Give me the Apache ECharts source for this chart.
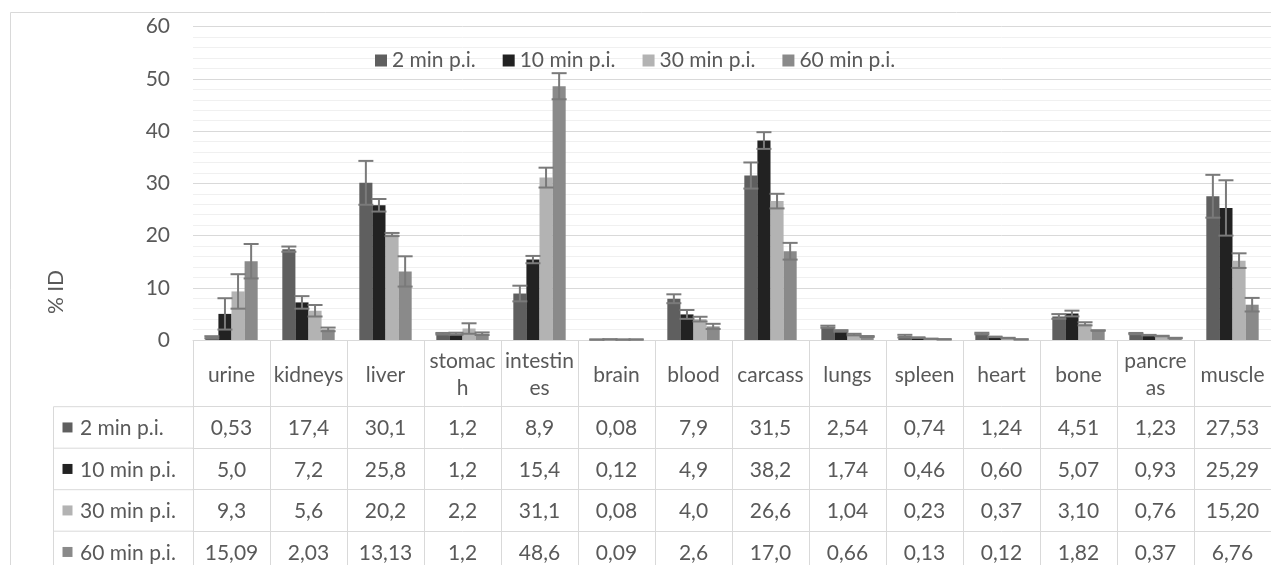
<!DOCTYPE html>
<html><head><meta charset="utf-8">
<script src="https://cdn.jsdelivr.net/npm/echarts@6/dist/echarts.min.js"></script>
<style>html,body{margin:0;padding:0;background:#fff}#c{width:1271px;height:565px}</style>
</head><body><div id="c"></div>
<script>
// ---- data ----
const categories = ['urine','kidneys','liver','stomach','intestines','brain','blood','carcass','lungs','spleen','heart','bone','pancreas','muscle'];
const categoryLabels = ['urine','kidneys','liver','stomac\nh','intestin\nes','brain','blood','carcass','lungs','spleen','heart','bone','pancre\nas','muscle'];
const seriesNames = ['2 min p.i.','10 min p.i.','30 min p.i.','60 min p.i.'];
const v2  = ['0.53','17.4','30.1','1.2','8.9','0.08','7.9','31.5','2.54','0.74','1.24','4.51','1.23','27.53'];
const v10 = ['5.0','7.2','25.8','1.2','15.4','0.12','4.9','38.2','1.74','0.46','0.60','5.07','0.93','25.29'];
const v30 = ['9.3','5.6','20.2','2.2','31.1','0.08','4.0','26.6','1.04','0.23','0.37','3.10','0.76','15.20'];
const v60 = ['15.09','2.03','13.13','1.2','48.6','0.09','2.6','17.0','0.66','0.13','0.12','1.82','0.37','6.76'];
const e2  = [0.2,0.5,4.2,0.15,1.5,0.02,0.85,2.5,0.2,0.25,0.15,0.45,0.12,4.1];
const e10 = [3.0,1.2,1.2,0.2,0.7,0.02,0.85,1.6,0.15,0.05,0.05,0.55,0.05,5.3];
const e30 = [3.3,1.1,0.3,1.0,1.9,0.02,0.45,1.4,0.15,0.03,0.05,0.3,0.05,1.4];
const e60 = [3.3,0.35,2.9,0.25,2.5,0.02,0.5,1.6,0.1,0.03,0.03,0.05,0.05,1.3];
const yMin = 0, yMax = 60, yInterval = 10;

// ---- style ----
const FONT = 'Lato';
const FS = 21;
const TXT = '#595959';
const LINE = '#d9d9d9';
const colors = ['#5f5f5f','#222222','#b3b3b3','#8a8a8a'];
const ERR = '#7a7a7a';
const GAP = 0.32;
const gridLeft = 193, gridTop = 26.7, gridW = 1080.8, gridH = 313.3;
const catRowH = 66.7, rowH = 41.5;

const values = [v2, v10, v30, v60];
const errors = [e2, e10, e30, e60];

function errRender(sIdx) {
  return function (params, api) {
    const i = api.value(0), v = api.value(1), e = api.value(2);
    const bandW = api.size([1, 0])[0];
    const barW = bandW * (1 - GAP) / 4;
    const c = api.coord([i, v]);
    const x = c[0] + (sIdx - 1.5) * barW;
    const yT = api.coord([i, v + e])[1];
    const yB = api.coord([i, Math.max(v - e, 0)])[1];
    const hw = 7.5;
    const st = { stroke: ERR, lineWidth: 2 };
    return { type: 'group', children: [
      { type: 'line', shape: { x1: x, y1: yT, x2: x, y2: yB }, style: st },
      { type: 'line', shape: { x1: x - hw, y1: yT, x2: x + hw, y2: yT }, style: st },
      { type: 'line', shape: { x1: x - hw, y1: yB, x2: x + hw, y2: yB }, style: st }
    ]};
  };
}

const xAxes = [{
  type: 'category', data: categories, gridIndex: 0, position: 'bottom',
  axisLine: { show: true, lineStyle: { color: LINE, width: 1 } },
  axisTick: { show: true, length: 240, lineStyle: { color: LINE, width: 1 } },
  axisLabel: { interval: 0, color: TXT, fontFamily: FONT, fontSize: FS, margin: 35,
    verticalAlign: 'middle', lineHeight: 27,
    formatter: (val, idx) => categoryLabels[idx] },
  splitLine: { show: false }
}];
values.forEach((row, k) => {
  xAxes.push({
    type: 'category', data: categories, gridIndex: 0, position: 'bottom',
    offset: catRowH + rowH * k,
    axisLine: { show: true, lineStyle: { color: LINE, width: 1 } },
    axisTick: { show: false },
    axisLabel: { interval: 0, color: TXT, fontFamily: FONT, fontSize: FS, margin: rowH / 2 + 1,
      verticalAlign: 'middle', formatter: (val, idx) => row[idx].replace('.', ',') },
    splitLine: { show: false }
  });
});

const series = [];
values.forEach((row, k) => {
  series.push({ type: 'bar', name: seriesNames[k], xAxisIndex: 0, yAxisIndex: 0,
    data: row.map(Number), barGap: '0%', barCategoryGap: (GAP * 100) + '%',
    itemStyle: { color: colors[k] }, z: 2 });
});
values.forEach((row, k) => {
  series.push({ type: 'custom', xAxisIndex: 0, yAxisIndex: 0, renderItem: errRender(k),
    encode: { x: 0, y: 1 }, z: 5, silent: true,
    data: row.map((v, i) => [i, Number(v), errors[k][i]]) });
});

// table left column decoration
const graphics = [
  { type: 'rect', shape: { x: 10.5, y: 12.5, width: 1400, height: 700 },
    style: { fill: 'none', stroke: LINE, lineWidth: 1 }, silent: true },
  { type: 'line', shape: { x1: 53.5, y1: gridTop + gridH + catRowH, x2: 53.5, y2: 600 },
    style: { stroke: LINE, lineWidth: 1 } },
  { type: 'text', x: 56, y: 292, rotation: Math.PI / 2,
    style: { text: '% ID', fill: TXT, font: FS + 'px ' + FONT, align: 'center', verticalAlign: 'middle' } }
];
seriesNames.forEach((n, k) => {
  const yTop = gridTop + gridH + catRowH + rowH * k;
  graphics.push({ type: 'line', shape: { x1: 53.5, y1: yTop, x2: gridLeft, y2: yTop },
    style: { stroke: LINE, lineWidth: 1 } });
  graphics.push({ type: 'rect', shape: { x: 62.5, y: yTop + rowH / 2 - 5, width: 10, height: 10 },
    style: { fill: colors[k] } });
  graphics.push({ type: 'text', x: 80, y: yTop + rowH / 2 + 1,
    style: { text: n, fill: TXT, font: FS + 'px ' + FONT, align: 'left', verticalAlign: 'middle' } });
});

const chart = echarts.init(document.getElementById('c'), null, { renderer: 'canvas' });
chart.setOption({
  animation: false,
  backgroundColor: '#fff',
  textStyle: { fontFamily: FONT },
  grid: { left: gridLeft, top: gridTop, width: gridW, height: gridH, containLabel: false },
  legend: { data: seriesNames, left: 375, top: 50, padding: 0, itemWidth: 12, itemHeight: 12,
    itemGap: 27, icon: 'rect', textStyle: { color: TXT, fontFamily: FONT, fontSize: FS } },
  xAxis: xAxes,
  yAxis: { type: 'value', min: yMin, max: yMax, interval: yInterval,
    axisLine: { show: false }, axisTick: { show: false },
    axisLabel: { color: TXT, fontFamily: FONT, fontSize: FS, margin: 23 },
    splitLine: { show: true, lineStyle: { color: LINE, width: 1 } },
    minorTick: { show: false, splitNumber: 5 },
    minorSplitLine: { show: true, lineStyle: { color: '#f0f0f0', width: 1 } } },
  graphic: graphics,
  series: series
});
</script></body></html>
